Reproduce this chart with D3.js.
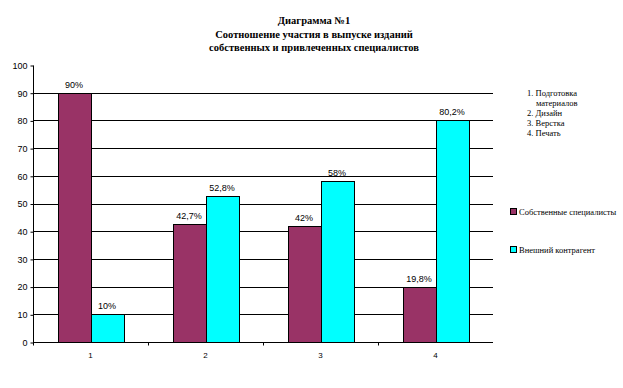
<!DOCTYPE html>
<html>
<head>
<meta charset="utf-8">
<script src="https://cdn.jsdelivr.net/npm/d3@7"></script>
<style>
  body { margin: 0; background: #fff; }
  svg { display: block; }
  .serif { font-family: 'Liberation Serif', 'DejaVu Serif', 'Times New Roman', Times, serif; }
  .sans { font-family: 'Liberation Sans', Arial, sans-serif; }
</style>
</head>
<body>
<div id="chart"></div>
<script>
var width = 623;
var height = 388;

// data
var categories = ["1", "2", "3", "4"];
var seriesNames = ["Собственные специалисты", "Внешний контрагент"];
var ownValues = [90, 42.7, 42, 19.8];
var extValues = [10, 52.8, 58, 80.2];
var ownLabels = ["90%", "42,7%", "42%", "19,8%"];
var extLabels = ["10%", "52,8%", "58%", "80,2%"];
var yTicks = [0, 10, 20, 30, 40, 50, 60, 70, 80, 90, 100];
var titleLines = ["Диаграмма №1", "Соотношение участия в выпуске изданий", "собственных и привлеченных специалистов"];
var noteLines = ["1. Подготовка", "материалов", "2. Дизайн", "3. Верстка", "4. Печать"];
var colors = ["#993366", "#00FFFF"];

var plot = { left: 33, right: 493, top: 65, bottom: 342 };

var svg = d3.select("#chart").append("svg")
  .attr("width", width)
  .attr("height", height);

var x = d3.scaleBand()
  .domain(categories)
  .range([plot.left, plot.right])
  .paddingInner(0)
  .paddingOuter(0);

var y = d3.scaleLinear()
  .domain([0, 100])
  .range([plot.bottom, plot.top]);

// bar width: gap width 150% like excel
var barW = x.bandwidth() / 3.5;
var groupOffset = (x.bandwidth() - 2 * barW) / 2;

// gridlines
svg.append("g")
  .selectAll("line")
  .data(yTicks.filter(function(d) { return d > 0 && d < 100; }))
  .enter().append("line")
  .attr("x1", plot.left)
  .attr("x2", plot.right)
  .attr("y1", function(d) { return Math.round(y(d)) + 0.5; })
  .attr("y2", function(d) { return Math.round(y(d)) + 0.5; })
  .attr("stroke", "#000")
  .attr("stroke-width", 1);

// bars
var series = [
  { values: ownValues, labels: ownLabels },
  { values: extValues, labels: extLabels }
];

series.forEach(function(s, si) {
  var g = svg.append("g");
  g.selectAll("rect")
    .data(s.values)
    .enter().append("rect")
    .attr("x", function(d, i) { return Math.round(x(categories[i]) + groupOffset + si * barW) + 0.5; })
    .attr("y", function(d) { return Math.round(y(d)) + 0.5; })
    .attr("width", Math.round(barW))
    .attr("height", function(d) { return Math.round(y(0)) - Math.round(y(d)); })
    .attr("fill", colors[si])
    .attr("stroke", "#000")
    .attr("stroke-width", 1);

  g.selectAll("text")
    .data(s.values)
    .enter().append("text")
    .attr("class", "sans")
    .attr("x", function(d, i) { return x(categories[i]) + groupOffset + si * barW + barW / 2; })
    .attr("y", function(d) { return y(d) - 5; })
    .attr("text-anchor", "middle")
    .style("font-size", "9px")
    .attr("fill", "#000")
    .text(function(d, i) { return s.labels[i]; });
});

// y axis
var yAxis = d3.axisLeft(y).tickValues(yTicks).tickSize(3).tickPadding(3);
var ya = svg.append("g")
  .attr("transform", "translate(" + (plot.left + 0.5) + ",0.5)")
  .call(yAxis);
ya.attr("font-family", null).attr("font-size", null);
ya.select(".domain").attr("d", "M0," + Math.round(plot.top) + "V" + Math.round(plot.bottom));
ya.selectAll("text")
  .attr("class", "sans")
  .style("font-size", "9px")
  .attr("fill", "#000");
ya.selectAll("line").attr("stroke", "#000");
ya.select(".domain").attr("stroke", "#000");

// x axis
var xa = svg.append("g")
  .attr("transform", "translate(0," + (Math.round(plot.bottom) + 0.5) + ")");
xa.append("line")
  .attr("x1", plot.left)
  .attr("x2", plot.right)
  .attr("stroke", "#000");
xa.selectAll(".tk")
  .data(categories)
  .enter().append("line")
  .attr("class", "tk")
  .attr("x1", function(d) { return Math.round(x(d)) + 0.5; })
  .attr("x2", function(d) { return Math.round(x(d)) + 0.5; })
  .attr("y1", 0)
  .attr("y2", 3)
  .attr("stroke", "#000");
xa.selectAll("text")
  .data(categories)
  .enter().append("text")
  .attr("class", "sans")
  .attr("x", function(d) { return x(d) + x.bandwidth() / 2; })
  .attr("y", 15)
  .attr("text-anchor", "middle")
  .style("font-size", "8px")
  .text(function(d) { return d; });

// title
svg.append("g").selectAll("text")
  .data(titleLines)
  .enter().append("text")
  .attr("class", "serif")
  .attr("x", 314)
  .attr("y", function(d, i) { return 24 + i * 13.5; })
  .attr("text-anchor", "middle")
  .style("font-size", "10.5px")
  .style("font-weight", "bold")
  .text(function(d) { return d; });

// category note
svg.append("g").selectAll("text")
  .data(noteLines)
  .enter().append("text")
  .attr("class", "serif")
  .attr("x", function(d, i) { return i === 1 ? 536 : 527; })
  .attr("y", function(d, i) { return 96 + i * 10; })
  .style("font-size", "8.5px")
  .text(function(d) { return d; });

// legend
var legend = svg.append("g").selectAll("g")
  .data(seriesNames)
  .enter().append("g")
  .attr("transform", function(d, i) { return "translate(510," + (208 + i * 38) + ")"; });
legend.append("rect")
  .attr("x", 0.5)
  .attr("y", 0.5)
  .attr("width", 6)
  .attr("height", 6)
  .attr("fill", function(d, i) { return colors[i]; })
  .attr("stroke", "#000");
legend.append("text")
  .attr("class", "serif")
  .attr("x", 9)
  .attr("y", 7)
  .style("font-size", "8.5px")
  .text(function(d) { return d; });
</script>
</body>
</html>
